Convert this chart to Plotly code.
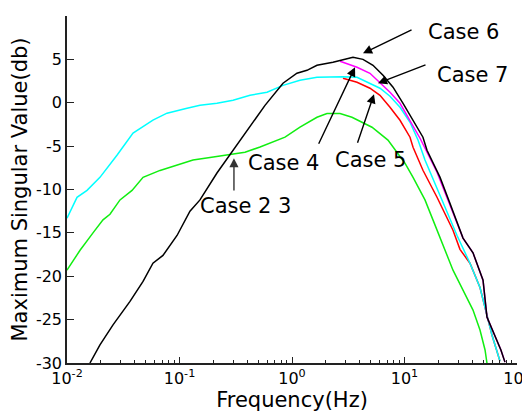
import plotly.graph_objects as go

# ---- data (log10 of frequency in Hz, maximum singular value in dB) ----
cyan_logf = [-2.0, -1.911, -1.822, -1.707, -1.556, -1.413, -1.236, -1.111, -0.933, -0.818,
             -0.667, -0.524, -0.373, -0.222, -0.08, 0.071, 0.222, 0.453, 0.578, 0.667,
             0.782, 0.871, 0.96, 1.049, 1.12, 1.182, 1.316, 1.467, 1.582, 1.671,
             1.733, 1.778, 1.849]
cyan_db = [-13.3, -10.9, -10.1, -8.6, -6.05, -3.5, -2.0, -1.2, -0.63, -0.3,
           -0.06, 0.29, 0.86, 1.21, 2.0, 2.6, 2.94, 3.0, 2.94, 2.36,
           1.67, 0.75, -0.52, -2.25, -4.3, -6.6, -10.7, -15.3, -18.5, -21.3,
           -24.5, -26.8, -29.8]

green_logf = [-2.0, -1.884, -1.769, -1.68, -1.618, -1.529, -1.422, -1.324, -1.173, -1.022,
              -0.88, -0.729, -0.578, -0.418, -0.284, -0.133, -0.062, 0.071, 0.222, 0.311,
              0.427, 0.533, 0.711, 0.853, 1.004, 1.076, 1.182, 1.253, 1.316, 1.431,
              1.52, 1.609, 1.671, 1.716, 1.733]
green_db = [-19.3, -17.0, -15.0, -13.5, -12.85, -11.2, -10.1, -8.6, -7.8, -7.2,
            -6.6, -6.3, -6.05, -5.7, -5.1, -4.3, -3.97, -2.82, -1.67, -1.25,
            -1.25, -1.67, -2.82, -4.3, -6.97, -8.6, -11.2, -13.5, -15.5, -19.3,
            -21.6, -23.9, -26.2, -28.5, -30.0]

black_logf = [-1.796, -1.707, -1.591, -1.44, -1.324, -1.236, -1.147, -1.022, -0.907, -0.818,
              -0.667, -0.524, -0.373, -0.24, -0.08, 0.044, 0.133, 0.222, 0.364, 0.489,
              0.542, 0.631, 0.72, 0.809, 0.898, 0.987, 1.076, 1.164, 1.2, 1.316,
              1.404, 1.52, 1.609, 1.698, 1.733, 1.804, 1.857, 1.893]
black_db = [-30.0, -27.9, -25.6, -22.9, -20.6, -18.5, -17.6, -15.3, -12.5, -11.2,
            -8.1, -5.5, -2.8, -0.3, 2.25, 3.4, 3.74, 4.32, 4.67, 5.13,
            5.24, 5.0, 4.32, 3.17, 1.79, -0.06, -2.0, -3.97, -5.47, -8.6,
            -11.6, -15.6, -17.3, -20.45, -24.7, -27.0, -28.5, -29.9]

magenta_logf = [0.427, 0.578, 0.693, 0.782, 0.871, 0.96, 1.049, 1.138, 1.289, 1.404,
                1.52, 1.609, 1.698, 1.733, 1.804, 1.857, 1.893]
magenta_db = [4.78, 4.09, 3.4, 2.36, 1.21, -0.06, -2.02, -4.09, -8.0, -11.7,
              -15.6, -17.3, -20.45, -24.7, -27.0, -28.5, -29.9]

red_logf = [0.453, 0.578, 0.693, 0.782, 0.871, 0.96, 1.049, 1.076, 1.164, 1.289,
            1.431, 1.493, 1.582, 1.671, 1.733, 1.778, 1.849]
red_db = [2.82, 2.36, 1.67, 0.86, -0.52, -2.02, -3.97, -5.13, -7.78, -10.89,
          -14.69, -16.9, -18.5, -21.3, -24.5, -26.8, -29.8]

y_ticks = [10, 5, 0, -5, -10, -15, -20, -25, -30]
x_tick_exps = [-2, -1, 0, 1, 2]

FONT = "DejaVu Sans"

def f(logs):
    return [10 ** v for v in logs]

fig = go.Figure()
fig.add_trace(go.Scatter(x=f(red_logf), y=red_db, mode="lines",
                         line=dict(color="#FF0000", width=1.5), name="Case 5"))
fig.add_trace(go.Scatter(x=f(cyan_logf), y=cyan_db, mode="lines",
                         line=dict(color="#00FFFF", width=1.5), name="Case 4"))
fig.add_trace(go.Scatter(x=f(green_logf), y=green_db, mode="lines",
                         line=dict(color="#11EE11", width=1.5), name="Case 2 3"))
fig.add_trace(go.Scatter(x=f(magenta_logf), y=magenta_db, mode="lines",
                         line=dict(color="#FF00FF", width=1.5), name="Case 7"))
fig.add_trace(go.Scatter(x=f(black_logf), y=black_db, mode="lines",
                         line=dict(color="#000000", width=1.5), name="Case 6"))

# annotations: (text, text_x_log, text_y, tail_x_log, tail_y, head_x_log, head_y, color)
notes = [
    ("Case 6", 1.52, 8.1, 1.076, 8.47, 0.631, 5.7, "#000000"),
    ("Case 7", 1.60, 3.2, 1.20, 4.43, 0.764, 2.25, "#000000"),
    ("Case 4", -0.08, -6.97, 0.231, -4.9, 0.56, 4.09, "#000000"),
    ("Case 5", 0.70, -6.6, 0.578, -4.78, 0.729, 0.98, "#000000"),
    ("Case 2 3", -0.41, -11.9, -0.516, -10.3, -0.516, -6.39, "#333333"),
]
for text, tx, ty, ax_, ay_, hx, hy, col in notes:
    fig.add_annotation(x=tx, y=ty, xref="x", yref="y", text=text, showarrow=False,
                       font=dict(family=FONT, size=21, color="black"))
    fig.add_annotation(x=hx, y=hy, xref="x", yref="y", ax=ax_, ay=ay_, axref="x", ayref="y",
                       text="", showarrow=True, arrowhead=2, arrowsize=1.3, arrowwidth=1.4,
                       arrowcolor=col, standoff=0, startstandoff=0)

minor_vals = [m * 10 ** e for e in range(-2, 2) for m in range(2, 10)]

# the page adds an 8px body margin, so the figure is shrunk to fit the window
fig.update_layout(
    width=522, height=408,
    margin=dict(l=59, r=13, t=8, b=53),
    paper_bgcolor="white", plot_bgcolor="white",
    showlegend=False,
    font=dict(family=FONT, color="black"),
)
fig.update_xaxes(
    type="log", range=[-2, 2], autorange=False,
    showline=True, linecolor="#222222", linewidth=1.5, mirror=False,
    showgrid=False, zeroline=False,
    ticks="inside", ticklen=6, tickwidth=1, tickcolor="#222222",
    tickmode="array", tickvals=[10 ** e for e in x_tick_exps],
    ticktext=["10<sup>%d</sup>" % e for e in x_tick_exps],
    tickfont=dict(family=FONT, size=16, color="black"),
    ticklabeloverflow="allow",
    minor=dict(tickmode="array", tickvals=minor_vals, ticks="inside", ticklen=3,
               tickwidth=1, tickcolor="#222222", showgrid=False),
    title=dict(text="Frequency(Hz)", font=dict(family=FONT, size=21, color="black"), standoff=4),
    automargin=False,
)
fig.update_yaxes(
    range=[-30, 10], autorange=False,
    showline=True, linecolor="#222222", linewidth=1.5, mirror=False,
    showgrid=False, zeroline=False,
    ticks="inside", ticklen=7, tickwidth=1, tickcolor="#222222",
    tickmode="array", tickvals=y_ticks, ticktext=[str(v) for v in y_ticks],
    tickfont=dict(family=FONT, size=16, color="black"),
    title=dict(text="Maximum Singular Value(db)", font=dict(family=FONT, size=21, color="black"), standoff=4),
    automargin=False,
)

fig.write_html("out.html")
